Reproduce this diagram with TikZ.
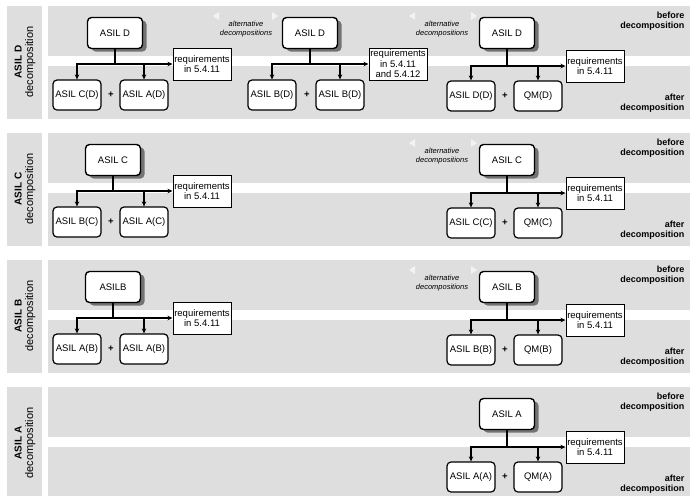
\documentclass[tikz,border=0pt]{standalone}
\usepackage{fontspec}
\setmainfont{Liberation Sans}
\usetikzlibrary{arrows.meta,positioning,shadows}
\definecolor{bandgray}{HTML}{DEDEDE}
\definecolor{notchgray}{HTML}{F3F3F3}
\tikzset{
	whole/.style={draw,line width=1.4pt,rounded corners=4pt,fill=white,minimum width=55pt,minimum height=31pt,inner sep=1pt,font=\fontsize{9.5}{10}\selectfont,drop shadow={shadow xshift=4pt,shadow yshift=-3pt,fill=black!55,opacity=1}},
	part/.style={draw,line width=1.2pt,rounded corners=4pt,fill=white,minimum width=48pt,minimum height=30pt,inner sep=1pt,font=\fontsize{9.5}{10}\selectfont},
	reqbox/.style={draw,line width=1pt,fill=white,minimum width=58pt,minimum height=32pt,inner sep=1pt,align=center,font=\fontsize{9.5}{10.5}\selectfont},
	altnote/.style={align=center,font=\fontsize{7.5}{8.5}\selectfont\itshape},
	phase/.style={anchor=east,align=right,font=\fontsize{9}{10}\selectfont\bfseries},
	sidelabel/.style={rotate=90,align=center,font=\fontsize{11}{11.5}\selectfont},
	plus/.style={font=\fontsize{9.5}{10}\selectfont\bfseries}
}
\begin{document}
\begin{tikzpicture}[x=1pt,y=-1pt]
		\useasboundingbox (0,0) rectangle (690,496);
		% bands
		\fill[bandgray] (7,6) rectangle (42,119);
		\fill[bandgray] (48,6) rectangle (690,56);
		\fill[bandgray] (48,66) rectangle (690,119);
		\fill[bandgray] (7,133) rectangle (42,246);
		\fill[bandgray] (48,133) rectangle (690,183);
		\fill[bandgray] (48,193) rectangle (690,246);
		\fill[bandgray] (7,260) rectangle (42,373);
		\fill[bandgray] (48,260) rectangle (690,310);
		\fill[bandgray] (48,320) rectangle (690,373);
		\fill[bandgray] (7,387) rectangle (42,496);
		\fill[bandgray] (48,387) rectangle (690,437);
		\fill[bandgray] (48,447) rectangle (690,496);

		% notches next to the alternative notes
		\fill[notchgray] (213,16) -- (219,12) -- (219,20) -- cycle;
		\fill[notchgray] (272,12) -- (278,16) -- (272,20) -- cycle;
		\fill[notchgray] (409,16) -- (415,12) -- (415,20) -- cycle;
		\fill[notchgray] (471,12) -- (477,16) -- (471,20) -- cycle;
		\fill[notchgray] (409,143) -- (415,139) -- (415,147) -- cycle;
		\fill[notchgray] (471,139) -- (477,143) -- (471,147) -- cycle;
		\fill[notchgray] (409,270) -- (415,266) -- (415,274) -- cycle;
		\fill[notchgray] (471,266) -- (477,270) -- (471,274) -- cycle;

		% labels
		\node[sidelabel] (sd) at (25,62) {\textbf{\fontsize{10}{11}\selectfont ASIL D}\\decomposition};
		\node[sidelabel] (sc) at (25,189) {\textbf{\fontsize{10}{11}\selectfont ASIL C}\\decomposition};
		\node[sidelabel] (sb) at (25,316) {\textbf{\fontsize{10}{11}\selectfont ASIL B}\\decomposition};
		\node[sidelabel] (sa) at (25,443) {\textbf{\fontsize{10}{11}\selectfont ASIL A}\\decomposition};

		\node[phase] (bd) at (688,21) {before\\decomposition};
		\node[phase] (ad) at (688,103) {after\\decomposition};
		\node[phase] (bc) at (688,148) {before\\decomposition};
		\node[phase] (ac) at (688,230) {after\\decomposition};
		\node[phase] (bb) at (688,275) {before\\decomposition};
		\node[phase] (ab) at (688,357) {after\\decomposition};
		\node[phase] (ba) at (688,402) {before\\decomposition};
		\node[phase] (aa) at (688,484) {after\\decomposition};

		\node[altnote] (n1) at (246,29) {alternative\\decompositions};
		\node[altnote] (n2) at (442,29) {alternative\\decompositions};
		\node[altnote] (n3) at (442,156) {alternative\\decompositions};
		\node[altnote] (n4) at (442,283) {alternative\\decompositions};

		% ASIL D
		\node[whole] (d1) at (115,33) {ASIL D};
		\node[reqbox] (d1q) at (202,64) {requirements\\in 5.4.11};
		\node[part] (d1l) at (77,95) {ASIL C(D)};
		\node[part] (d1r) at (144,95) {ASIL A(D)};
		\node[plus] (d1p) at (111,95) {+};

		\node[whole] (d2) at (310,33) {ASIL D};
		\node[reqbox] (d2q) at (398,64) {requirements\\in 5.4.11\\and 5.4.12};
		\node[part] (d2l) at (272,95) {ASIL B(D)};
		\node[part] (d2r) at (340,95) {ASIL B(D)};
		\node[plus] (d2p) at (307,95) {+};

		\node[whole] (d3) at (507,33) {ASIL D};
		\node[reqbox] (d3q) at (595,66) {requirements\\in 5.4.11};
		\node[part] (d3l) at (471,96) {ASIL D(D)};
		\node[part] (d3r) at (538,96) {QM(D)};
		\node[plus] (d3p) at (505,96) {+};

		% ASIL C
		\node[whole] (c1) at (113,160) {ASIL C};
		\node[reqbox] (c1q) at (202,191) {requirements\\in 5.4.11};
		\node[part] (c1l) at (77,222) {ASIL B(C)};
		\node[part] (c1r) at (144,222) {ASIL A(C)};
		\node[plus] (c1p) at (111,222) {+};

		\node[whole] (c2) at (507,160) {ASIL C};
		\node[reqbox] (c2q) at (595,193) {requirements\\in 5.4.11};
		\node[part] (c2l) at (471,223) {ASIL C(C)};
		\node[part] (c2r) at (538,223) {QM(C)};
		\node[plus] (c2p) at (505,223) {+};

		% ASIL B
		\node[whole] (b1) at (113,287) {ASILB};
		\node[reqbox] (b1q) at (202,318) {requirements\\in 5.4.11};
		\node[part] (b1l) at (77,349) {ASIL A(B)};
		\node[part] (b1r) at (144,349) {ASIL A(B)};
		\node[plus] (b1p) at (111,349) {+};

		\node[whole] (b2) at (507,287) {ASIL B};
		\node[reqbox] (b2q) at (595,320) {requirements\\in 5.4.11};
		\node[part] (b2l) at (471,350) {ASIL B(B)};
		\node[part] (b2r) at (538,350) {QM(B)};
		\node[plus] (b2p) at (505,350) {+};

		% ASIL A
		\node[whole] (a1) at (507,414) {ASIL A};
		\node[reqbox] (a1q) at (595,447) {requirements\\in 5.4.11};
		\node[part] (a1l) at (471,477) {ASIL A(A)};
		\node[part] (a1r) at (538,477) {QM(A)};
		\node[plus] (a1p) at (505,477) {+};

		\begin{scope}[>={Stealth[black,length=5pt,width=4.5pt]},line width=1.3pt]
			\coordinate (d1k) at (d1.south |- d1q.west);
			\draw (d1.south) -- (d1k);
			\draw[->] (d1k) -| (d1l.north);
			\draw[->] (d1k) -| (d1r.north);
			\draw[->] (d1k) -- (d1q.west);

			\coordinate (d2k) at (d2.south |- d2q.west);
			\draw (d2.south) -- (d2k);
			\draw[->] (d2k) -| (d2l.north);
			\draw[->] (d2k) -| (d2r.north);
			\draw[->] (d2k) -- (d2q.west);

			\coordinate (d3k) at (d3.south |- d3q.west);
			\draw (d3.south) -- (d3k);
			\draw[->] (d3k) -| (d3l.north);
			\draw[->] (d3k) -| (d3r.north);
			\draw[->] (d3k) -- (d3q.west);

			\coordinate (c1k) at (c1.south |- c1q.west);
			\draw (c1.south) -- (c1k);
			\draw[->] (c1k) -| (c1l.north);
			\draw[->] (c1k) -| (c1r.north);
			\draw[->] (c1k) -- (c1q.west);

			\coordinate (c2k) at (c2.south |- c2q.west);
			\draw (c2.south) -- (c2k);
			\draw[->] (c2k) -| (c2l.north);
			\draw[->] (c2k) -| (c2r.north);
			\draw[->] (c2k) -- (c2q.west);

			\coordinate (b1k) at (b1.south |- b1q.west);
			\draw (b1.south) -- (b1k);
			\draw[->] (b1k) -| (b1l.north);
			\draw[->] (b1k) -| (b1r.north);
			\draw[->] (b1k) -- (b1q.west);

			\coordinate (b2k) at (b2.south |- b2q.west);
			\draw (b2.south) -- (b2k);
			\draw[->] (b2k) -| (b2l.north);
			\draw[->] (b2k) -| (b2r.north);
			\draw[->] (b2k) -- (b2q.west);

			\coordinate (a1k) at (a1.south |- a1q.west);
			\draw (a1.south) -- (a1k);
			\draw[->] (a1k) -| (a1l.north);
			\draw[->] (a1k) -| (a1r.north);
			\draw[->] (a1k) -- (a1q.west);
		\end{scope}
	\end{tikzpicture}
\end{document}
